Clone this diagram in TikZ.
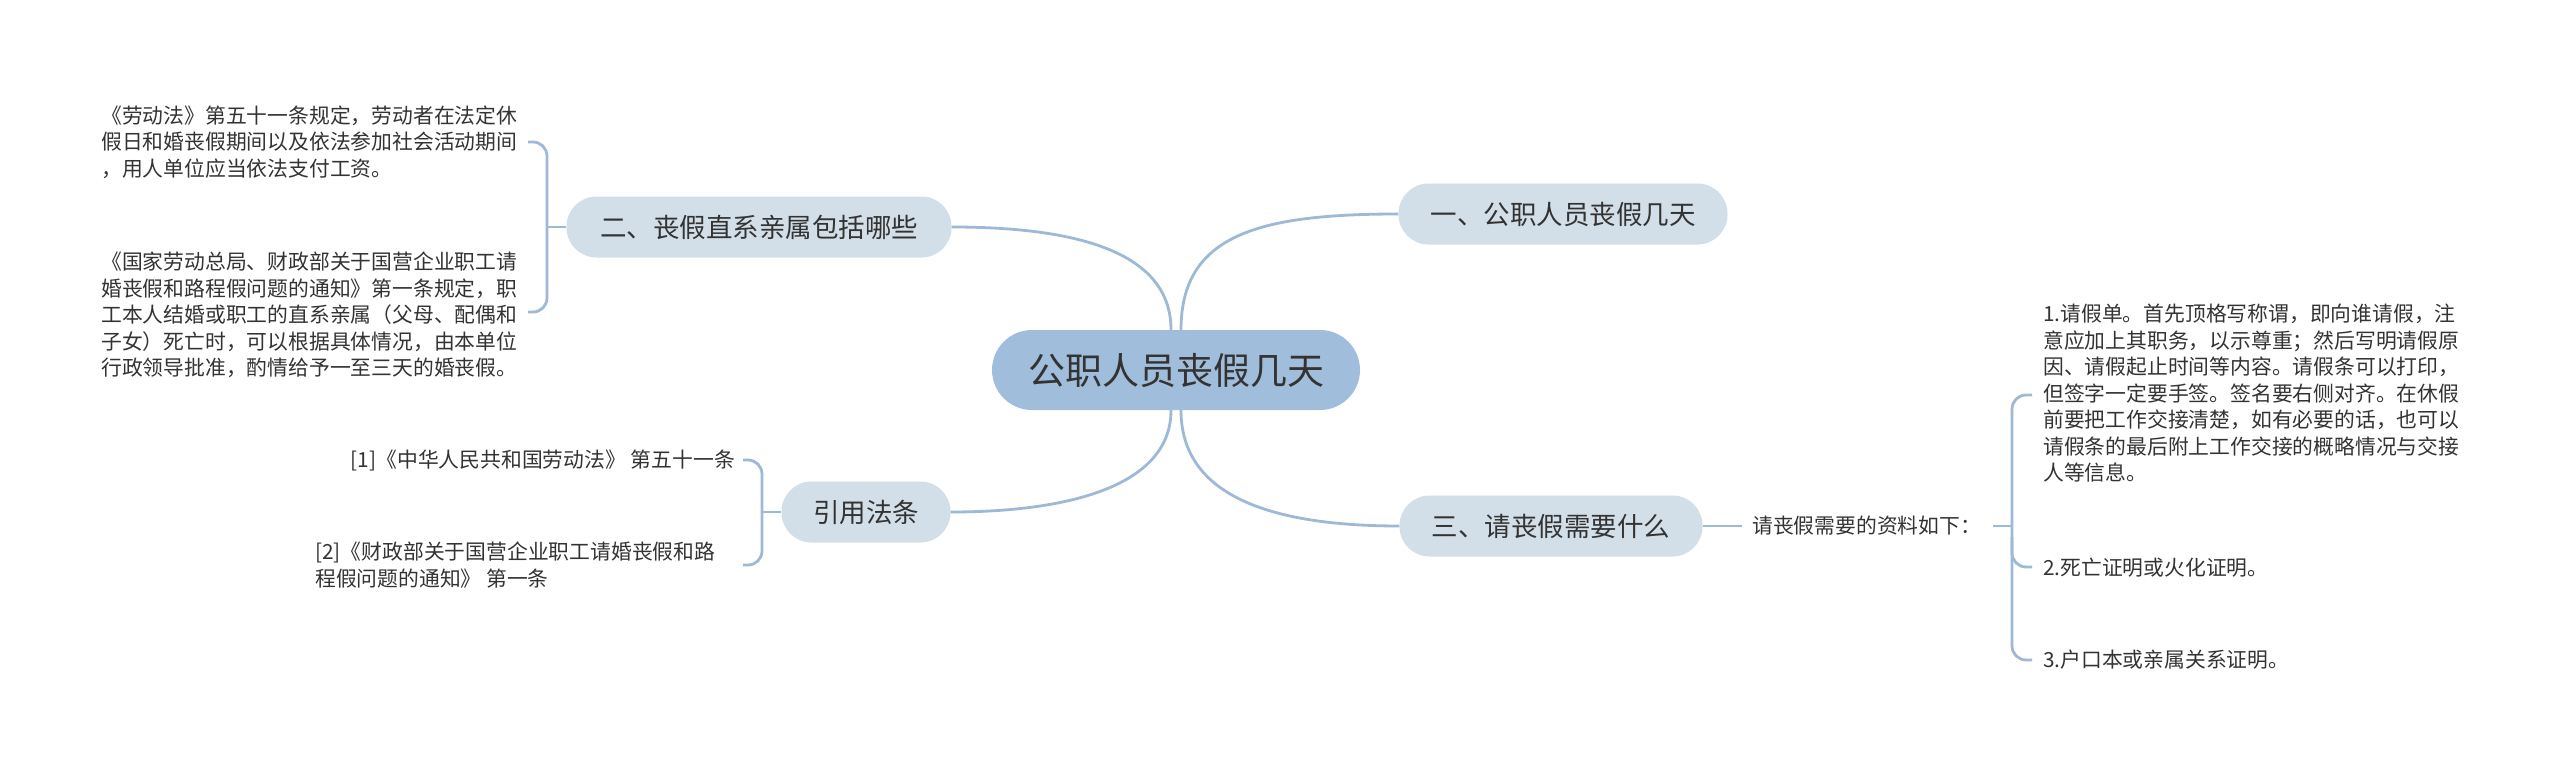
\documentclass[tikz,border=0pt]{standalone}
\usepackage{fontspec}
\newfontfamily\cjk{Noto Sans CJK SC}
\definecolor{mainfill}{HTML}{A0BEDB}
\definecolor{subfill}{HTML}{D3DFE8}
\definecolor{linec}{HTML}{9DB9D5}
\definecolor{txt}{HTML}{333333}
\tikzset{
 root/.style={fill=mainfill, rounded corners=40pt, minimum width=368pt, minimum height=80pt, inner sep=0pt, font=\cjk\fontsize{37}{44}\selectfont, text=txt},
 topic/.style={fill=subfill, rounded corners=30pt, minimum height=61pt, inner sep=0pt, font=\cjk\fontsize{26.5}{32}\selectfont, text=txt},
 leaf/.style={inner sep=0pt, align=left, font=\cjk\fontsize{20.8}{26.5}\selectfont, text=txt},
 conn/.style={draw=linec, line width=2.8pt},
 brace/.style={draw=linec, line width=2.8pt, rounded corners=14pt},
}
\begin{document}
\begin{tikzpicture}[x=1pt,y=-1pt]
\useasboundingbox[fill=white] (0,0) rectangle (2560,773);
% nodes
\node[root] (c) at (1176,370) {公职人员丧假几天};
\node[topic, minimum width=329pt] (t1) at (1563,214) {一、公职人员丧假几天};
\node[topic, minimum width=385pt] (t2) at (759,227) {二、丧假直系亲属包括哪些};
\node[topic, minimum width=303pt] (t3) at (1551,526) {三、请丧假需要什么};
\node[topic, minimum width=169pt] (t4) at (866,512) {引用法条};
% left leaves
\node[leaf, anchor=west] (l1) at (101,142) {《劳动法》第五十一条规定，劳动者在法定休\\假日和婚丧假期间以及依法参加社会活动期间\\，用人单位应当依法支付工资。};
\node[leaf, anchor=west] (l2) at (101,315) {《国家劳动总局、财政部关于国营企业职工请\\婚丧假和路程假问题的通知》第一条规定，职\\工本人结婚或职工的直系亲属（父母、配偶和\\子女）死亡时，可以根据具体情况，由本单位\\行政领导批准，酌情给予一至三天的婚丧假。};
\node[leaf, anchor=east] (r1) at (735,460) {[1]《中华人民共和国劳动法》 第五十一条};
\node[leaf, anchor=west] (r2) at (315,565) {[2]《财政部关于国营企业职工请婚丧假和路\\程假问题的通知》 第一条};
% right leaves
\node[leaf, anchor=west] (q) at (1752,526) {请丧假需要的资料如下：};
\node[leaf, anchor=west] (i1) at (2043,393.5) {1.请假单。首先顶格写称谓，即向谁请假，注\\意应加上其职务，以示尊重；然后写明请假原\\因、请假起止时间等内容。请假条可以打印，\\但签字一定要手签。签名要右侧对齐。在休假\\前要把工作交接清楚，如有必要的话，也可以\\请假条的最后附上工作交接的概略情况与交接\\人等信息。};
\node[leaf, anchor=west] (i2) at (2043,568) {2.死亡证明或火化证明。};
\node[leaf, anchor=west] (i3) at (2043,660) {3.户口本或亲属关系证明。};
% main connectors
\draw[conn] ([xshift=5pt]c.north) .. controls +(0,-95) and +(-140,0) .. (t1.west);
\draw[conn] ([xshift=-5pt]c.north) .. controls +(0,-80) and +(120,0) .. (t2.east);
\draw[conn] ([xshift=-5pt]c.south) .. controls +(0,75) and +(120,0) .. (t4.east);
\draw[conn] ([xshift=5pt]c.south) .. controls +(0,85) and +(-130,0) .. (t3.west);
% brace for t2
\coordinate (b2) at (547,227);
\coordinate (a21) at (528,142);
\coordinate (a22) at (528,312);
\draw[brace] (a21) -| (b2) |- (a22);
\draw[conn] (b2) -- (t2.west);
% brace for t4
\coordinate (b4) at (762,512);
\coordinate (a41) at (743,460);
\coordinate (a42) at (743,565);
\draw[brace] (a41) -| (b4) |- (a42);
\draw[conn] (b4) -- (t4.west);
% right side
\coordinate (qa) at (1742,526);
\coordinate (qb) at (1993,526);
\coordinate (b3) at (2012,526);
\coordinate (a31) at (2032,395);
\coordinate (a32) at (2032,567);
\coordinate (a33) at (2032,660);
\coordinate (v2) at (2012,537);
\draw[conn] (t3.east) -- (qa);
\draw[conn] (qb) -- (b3);
\draw[brace] (a31) -| (b3) |- (a33);
\draw[brace] (v2) |- (a32);
\end{tikzpicture}
\end{document}
